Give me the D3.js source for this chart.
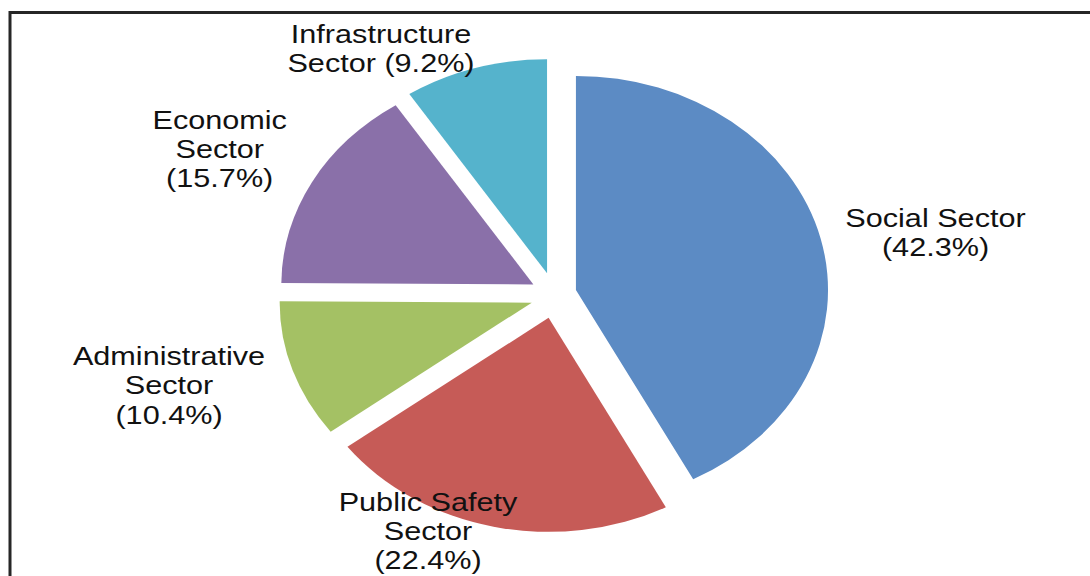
<!DOCTYPE html>
<html>
<head>
<meta charset="utf-8">
<script src="https://cdn.jsdelivr.net/npm/d3@7"></script>
<style>
  html, body { margin: 0; padding: 0; background: #fff; }
  svg { display: block; }
  text { font-family: "Liberation Sans", Arial, Helvetica, sans-serif; }
</style>
</head>
<body>
<svg id="chart" width="1090" height="576"></svg>
<script>
// Budget share by sector (percent)
const categories = ["Social Sector", "Public Safety Sector", "Administrative Sector", "Economic Sector", "Infrastructure Sector"];
const shares = [42.3, 22.4, 10.4, 15.7, 9.2];
const sliceColors = ["#5c8bc4", "#c65b57", "#a4c164", "#8a70a9", "#55b3cc"];
const labelLines = [["Social Sector"], ["Public Safety", "Sector"], ["Administrative", "Sector"], ["Economic", "Sector"], ["Infrastructure", "Sector"]];
const percentInline = [false, false, false, false, true];

// Layout
const W = 1090, H = 576;
const center = { x: 553.6, y: 295.4 };
const radius = 214;        // vertical radius
const stretchX = 1.178;    // the pie is drawn as a horizontally widened ellipse
const explode = 23;        // distance each slice is pulled out from the centre
const fontSize = 26;
const lineHeight = 29.4;
// text block anchors: centre x, first baseline y
const labelAnchors = [
  { x: 935.5, y: 226.7 },
  { x: 428,   y: 510.5 },
  { x: 169,   y: 365 },
  { x: 219.7, y: 128.5 },
  { x: 381,   y: 42.7 }
];

const svg = d3.select("#chart");

// outer frame (top and left edges visible)
svg.append("path")
  .attr("d", `M10,${H + 5} V12.5 H${W + 5}`)
  .attr("fill", "none")
  .attr("stroke", "#262626")
  .attr("stroke-width", 3);

const data = categories.map((c, i) => ({ category: c, value: shares[i], color: sliceColors[i], i }));

const pie = d3.pie().sort(null).value(d => d.value);
const arc = d3.arc().innerRadius(0).outerRadius(radius);
const arcs = pie(data);

const slices = svg.append("g").attr("class", "slices");
slices.selectAll("g.slice")
  .data(arcs)
  .join("g")
  .attr("class", "slice")
  .attr("transform", d => {
    const mid = (d.startAngle + d.endAngle) / 2;
    const ox = explode * Math.sin(mid);
    const oy = -explode * Math.cos(mid);
    return `translate(${center.x + ox},${center.y + oy}) scale(${stretchX},1)`;
  })
  .append("path")
  .attr("d", arc)
  .attr("fill", d => d.data.color);

// data labels
const fmt = v => `(${d3.format(".1f")(v)}%)`;
const labels = svg.append("g").attr("class", "labels");
data.forEach((d, i) => {
  const lines = labelLines[i].slice();
  if (percentInline[i]) {
    lines[lines.length - 1] = lines[lines.length - 1] + " " + fmt(d.value);
  } else {
    lines.push(fmt(d.value));
  }
  const a = labelAnchors[i];
  lines.forEach((ln, k) => {
    labels.append("text")
      .attr("transform", `translate(${a.x},${a.y + k * lineHeight}) scale(${stretchX},1)`)
      .attr("text-anchor", "middle")
      .attr("font-size", fontSize)
      .attr("fill", "#111")
      .text(ln);
  });
});
</script>
</body>
</html>
